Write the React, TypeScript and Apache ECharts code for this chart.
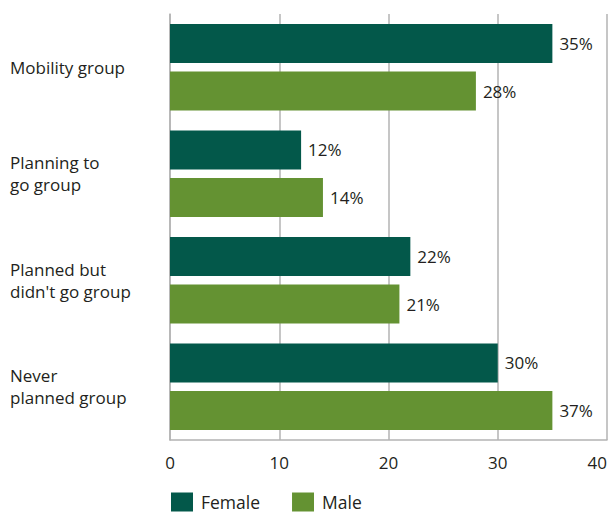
import React, { useEffect, useRef } from "react";
import * as echarts from "echarts";

const categories = ["Mobility group", "Planning to\ngo group", "Planned but\ndidn't go group", "Never\nplanned group"];
const femaleValues = [35, 12, 22, 30];
const maleValues = [28, 14, 21, 35];
const femaleLabels = ["35%", "12%", "22%", "30%"];
const maleLabels = ["28%", "14%", "21%", "37%"];
const xTicks = [0, 10, 20, 30, 40];

const FONT = "'Open Sans', 'Noto Sans', sans-serif";
const TEXT = "#231f20";

export default function App() {
  const ref = useRef<HTMLDivElement>(null);
  useEffect(() => {
    if (!ref.current) return;
    document.body.style.margin = "0";
    document.body.style.overflow = "hidden";
    const chart = echarts.init(ref.current, undefined, { renderer: "svg" });
    const catLabel = {
      fontSize: 17,
      color: TEXT,
      align: "left",
      lineHeight: 22,
      fontFamily: FONT,
    };
    chart.setOption({
      animation: false,
      textStyle: { fontFamily: FONT },
      grid: { left: 170, right: 4, top: 14, bottom: 73, containLabel: false, outerBoundsMode: "none" },
      legend: {
        left: 171,
        top: 492,
        padding: 0,
        itemWidth: 22,
        itemHeight: 19,
        itemGap: 32,
        icon: "rect",
        textStyle: { fontSize: 17.5, lineHeight: 20, color: TEXT, fontFamily: FONT, padding: [0, 0, 0, 3] },
        data: ["Female", "Male"],
      },
      xAxis: {
        type: "value",
        min: xTicks[0],
        max: xTicks[xTicks.length - 1],
        interval: 10,
        axisLine: { show: true, lineStyle: { color: "#b3b3b3", width: 1.5 } },
        axisTick: { show: false },
        splitLine: { show: true, lineStyle: { color: "#b3b3b3", width: 1.5 } },
        axisLabel: { fontSize: 17, color: TEXT, margin: 14, fontFamily: FONT, alignMaxLabel: "right" },
      },
      yAxis: {
        type: "category",
        inverse: true,
        data: categories.map((c, i) =>
          i === 0 ? { value: c, textStyle: { ...catLabel, padding: [0, 0, 10, 0] } } : c
        ),
        axisLine: { show: true, lineStyle: { color: "#b3b3b3", width: 1.5 } },
        axisTick: { show: false },
        axisLabel: { ...catLabel, margin: 160 },
      },
      series: [
        {
          name: "Female",
          type: "bar",
          data: femaleValues,
          barWidth: 39,
          barGap: "22%",
          itemStyle: { color: "#03584a" },
          label: {
            show: true,
            position: "right",
            distance: 7,
            fontSize: 17,
            color: TEXT,
            fontFamily: FONT,
            formatter: (p: any) => femaleLabels[p.dataIndex],
          },
        },
        {
          name: "Male",
          type: "bar",
          data: maleValues,
          barWidth: 39,
          barGap: "22%",
          itemStyle: { color: "#649232" },
          label: {
            show: true,
            position: "right",
            distance: 7,
            fontSize: 17,
            color: TEXT,
            fontFamily: FONT,
            formatter: (p: any) => maleLabels[p.dataIndex],
          },
        },
      ],
    });
    return () => chart.dispose();
  }, []);
  return <div ref={ref} style={{ width: 611, height: 513, position: "absolute", left: 0, top: 0 }} />;
}
